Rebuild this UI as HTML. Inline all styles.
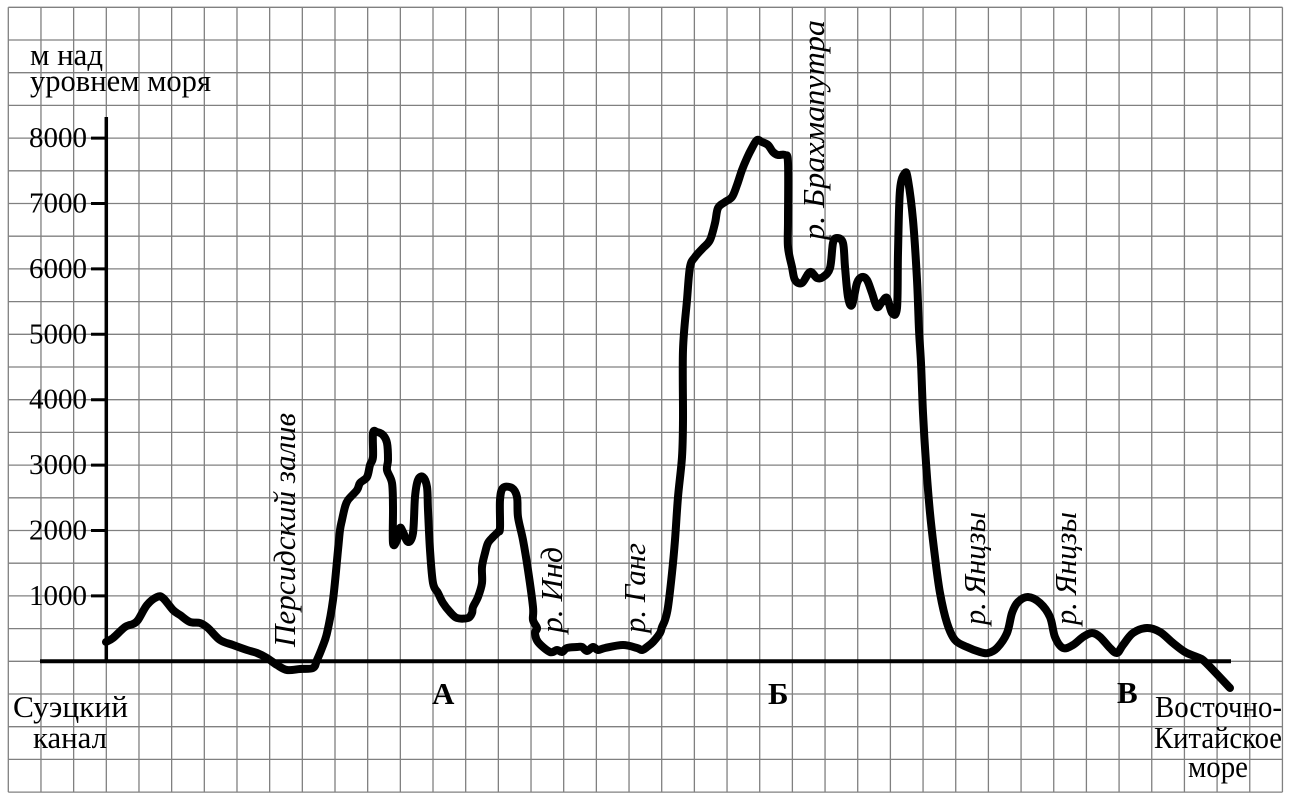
<!DOCTYPE html>
<html><head><meta charset="utf-8"><style>
html,body{margin:0;padding:0;background:#fff;}
svg{display:block;}
text{font-family:"Liberation Serif","DejaVu Serif",serif;fill:#000;}
</style></head><body>
<svg width="1312" height="801" viewBox="0 0 1312 801" xmlns="http://www.w3.org/2000/svg" font-family="'Liberation Serif', 'DejaVu Serif', serif">
<rect width="1312" height="801" fill="#fff"/>
<g stroke="#808080" stroke-width="1.3" fill="none">
<path d="M8.3 7.3V792.1M40.97 7.3V792.1M73.64 7.3V792.1M106.31 7.3V792.1M138.98 7.3V792.1M171.65 7.3V792.1M204.32 7.3V792.1M236.99 7.3V792.1M269.66 7.3V792.1M302.33 7.3V792.1M335 7.3V792.1M367.67 7.3V792.1M400.34 7.3V792.1M433.01 7.3V792.1M465.68 7.3V792.1M498.35 7.3V792.1M531.02 7.3V792.1M563.69 7.3V792.1M596.36 7.3V792.1M629.03 7.3V792.1M661.7 7.3V792.1M694.37 7.3V792.1M727.04 7.3V792.1M759.71 7.3V792.1M792.38 7.3V792.1M825.05 7.3V792.1M857.72 7.3V792.1M890.39 7.3V792.1M923.06 7.3V792.1M955.73 7.3V792.1M988.4 7.3V792.1M1021.07 7.3V792.1M1053.74 7.3V792.1M1086.41 7.3V792.1M1119.08 7.3V792.1M1151.75 7.3V792.1M1184.42 7.3V792.1M1217.09 7.3V792.1M1249.76 7.3V792.1M1282.43 7.3V792.1"/>
<path d="M8.3 7.3H1282.43M8.3 40H1282.43M8.3 72.7H1282.43M8.3 105.4H1282.43M8.3 138.1H1282.43M8.3 170.8H1282.43M8.3 203.5H1282.43M8.3 236.2H1282.43M8.3 268.9H1282.43M8.3 301.6H1282.43M8.3 334.3H1282.43M8.3 367H1282.43M8.3 399.7H1282.43M8.3 432.4H1282.43M8.3 465.1H1282.43M8.3 497.8H1282.43M8.3 530.5H1282.43M8.3 563.2H1282.43M8.3 595.9H1282.43M8.3 628.6H1282.43M8.3 661.3H1282.43M8.3 694H1282.43M8.3 726.7H1282.43M8.3 759.4H1282.43M8.3 792.1H1282.43"/>
</g>

<!-- axes -->
<g stroke="#000" fill="none">
<line x1="106.3" y1="117" x2="106.3" y2="661.3" stroke-width="3.5"/>
<line x1="40" y1="661.3" x2="1231" y2="661.3" stroke-width="4"/>
<path stroke-width="3" d="M91 138.1H106M91 203.5H106M91 268.9H106M91 334.3H106M91 399.7H106M91 465.1H106M91 530.5H106M91 595.9H106"/>
</g>

<!-- y labels -->
<g font-size="29" text-anchor="end" font-family="'Liberation Serif', serif">
<text x="87" y="147">8000</text>
<text x="87" y="212.5">7000</text>
<text x="87" y="278">6000</text>
<text x="87" y="343.3">5000</text>
<text x="87" y="408.7">4000</text>
<text x="87" y="474">3000</text>
<text x="87" y="539.5">2000</text>
<text x="87" y="605">1000</text>
</g>

<g font-family="'Liberation Serif', serif">
<text x="30" y="65" font-size="31" textLength="73" lengthAdjust="spacingAndGlyphs">м над</text>
<text x="30" y="91" font-size="31" textLength="181" lengthAdjust="spacingAndGlyphs">уровнем моря</text>
</g>

<!-- curve -->
<polyline id="crv" fill="none" stroke="#000" stroke-width="8" stroke-linejoin="round" stroke-linecap="round" points="106,642 113,638 125,627 133,624 138,620 147,605 157,597 163,598 173,610 180,615 190,622 200,623 208,628 220,640 233,645 247,650 257,653 267,658 277,665 287,670 300,669 313,668 317,660 322,648 327,633 333,600 338,550 340,530 342,520 345,507 348,500 357,490 360,483 367,477 370,465 373,457 373,433 377,432 383,435 387,443 388,460 387,470 392,483 393,507 393,543 397,540 400,528 403,532 408,542 413,533 415,497 418,480 423,477 427,487 428,510 430,550 433,583 438,593 443,603 450,612 457,618 468,618 472,613 473,607 478,597 482,583 482,567 485,553 488,543 493,537 498,532 500,528 500,500 503,488 512,488 517,497 518,517 523,540 528,570 533,607 533,620 537,628 535,633 538,642 550,652 557,650 562,652 567,648 577,647 582,647 587,651 593,647 598,650 605,648 623,645 637,648 642,650 647,647 653,642 660,633 662,627 665,620 668,607 672,573 675,540 678,497 682,457 683,420 683,350 687,300 690,267 695,257 703,248 710,240 715,223 718,208 725,202 732,197 737,185 742,170 747,158 752,148 757,140 762,142 768,145 773,152 778,155 785,155 788,163 788,220 788,247 792,267 795,280 802,283 810,272 817,278 823,277 830,268 833,243 837,238 843,243 845,267 848,297 852,305 857,283 862,277 867,280 872,293 877,307 882,302 887,298 892,313 897,308 898,253 900,190 905,173 908,180 913,220 917,280 919,330 921,363 923,413 926,463 930,513 935,557 940,593 947,623 955,640 967,647 980,652 988,653 997,648 1007,633 1012,613 1018,602 1028,597 1040,603 1050,617 1055,637 1063,648 1073,645 1083,637 1092,633 1100,637 1110,648 1117,653 1123,645 1133,633 1147,628 1160,632 1173,643 1185,652 1197,657 1203,660 1213,670 1230,688"/>

<!-- rotated italic labels -->
<g font-size="31" font-style="italic" font-family="'Liberation Serif', serif">
<text transform="translate(295,647) rotate(-90)" textLength="234" lengthAdjust="spacingAndGlyphs">Персидский залив</text>
<text transform="translate(562,633) rotate(-90)" textLength="86" lengthAdjust="spacingAndGlyphs">р. Инд</text>
<text transform="translate(645,633) rotate(-90)" textLength="90" lengthAdjust="spacingAndGlyphs">р. Ганг</text>
<text transform="translate(824,240) rotate(-90)" textLength="220" lengthAdjust="spacingAndGlyphs">р. Брахмапутра</text>
<text transform="translate(985,625) rotate(-90)" textLength="113" lengthAdjust="spacingAndGlyphs">р. Янцзы</text>
<text transform="translate(1076,625) rotate(-90)" textLength="113" lengthAdjust="spacingAndGlyphs">р. Янцзы</text>
</g>

<!-- bottom labels -->
<g font-size="31" font-family="'Liberation Serif', serif">
<text x="13" y="717" textLength="115" lengthAdjust="spacingAndGlyphs">Суэцкий</text>
<text x="33" y="748" textLength="74" lengthAdjust="spacingAndGlyphs">канал</text>
<text x="1155" y="717" textLength="127" lengthAdjust="spacingAndGlyphs">Восточно-</text>
<text x="1154" y="748" textLength="128" lengthAdjust="spacingAndGlyphs">Китайское</text>
<text x="1188" y="777" textLength="60" lengthAdjust="spacingAndGlyphs">море</text>
</g>
<g font-size="31" font-weight="bold" font-family="'Liberation Serif', serif">
<text x="432" y="704">А</text>
<text x="768" y="704">Б</text>
<text x="1117" y="703">В</text>
</g>
</svg>
<script>
(function(){
  var pl=document.getElementById('crv');
  if(!pl) return;
  var pts=pl.getAttribute('points').trim().split(/\s+/).map(function(p){return p.split(',').map(Number);});
  var d='M'+pts[0][0]+' '+pts[0][1];
  for(var i=0;i<pts.length-1;i++){
    var p0=pts[i-1]||pts[i],p1=pts[i],p2=pts[i+1],p3=pts[i+2]||pts[i+1];
    var c1x=p1[0]+(p2[0]-p0[0])/6,c1y=p1[1]+(p2[1]-p0[1])/6;
    var c2x=p2[0]-(p3[0]-p1[0])/6,c2y=p2[1]-(p3[1]-p1[1])/6;
    d+=' C'+c1x.toFixed(2)+' '+c1y.toFixed(2)+' '+c2x.toFixed(2)+' '+c2y.toFixed(2)+' '+p2[0]+' '+p2[1];
  }
  var ns='http://www.w3.org/2000/svg';
  var path=document.createElementNS(ns,'path');
  path.setAttribute('d',d);
  path.setAttribute('fill','none');
  path.setAttribute('stroke','#000');
  path.setAttribute('stroke-width','8');
  path.setAttribute('stroke-linejoin','round');
  path.setAttribute('stroke-linecap','round');
  pl.parentNode.replaceChild(path,pl);
})();
</script>
</body></html>
